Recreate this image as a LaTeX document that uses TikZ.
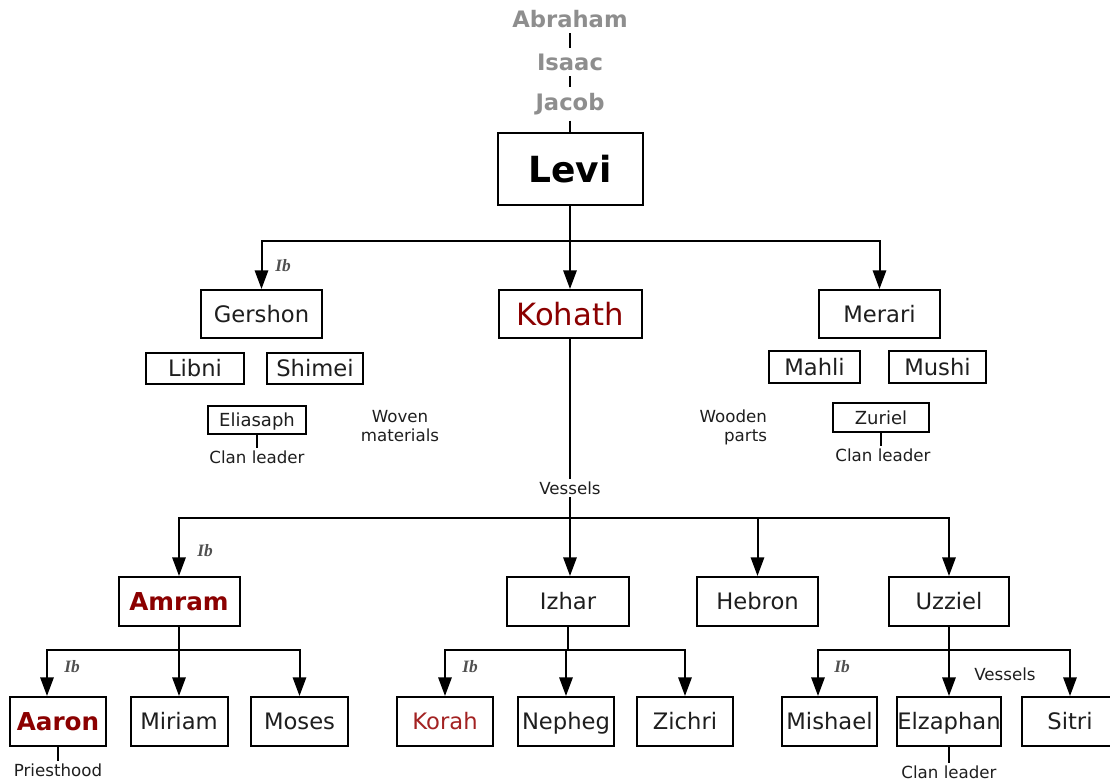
\documentclass[tikz,border=0pt]{standalone}
\usepackage{fontspec}
\setmainfont{DejaVu Sans}
\newfontfamily\ibfont{Liberation Serif}
\usetikzlibrary{arrows.meta}
\definecolor{ancgray}{HTML}{8E8E8E}
\definecolor{dkred}{HTML}{8B0000}
\definecolor{korahred}{HTML}{A32222}
\definecolor{txt}{HTML}{1E1E1E}
\definecolor{ibgray}{HTML}{505050}
\begin{document}
\begin{tikzpicture}[x=0.75pt,y=-0.75pt,
  line width=1.5pt,
  box/.style 2 args={draw=black, line width=1.5pt, fill=white, inner sep=0pt,
    minimum width=#1*0.75pt, minimum height=#2*0.75pt, text=txt,
    text height=12.4pt, text depth=0pt,
    font=\fontsize{17pt}{19pt}\selectfont},
  smallbox/.style 2 args={box={#1}{#2}, text height=9.9pt, font=\fontsize{13.5pt}{16pt}\selectfont},
  redbold/.style={text=dkred, text height=13.5pt, font=\fontsize{18.5pt}{20pt}\selectfont\bfseries},
  anc/.style={text=ancgray, font=\fontsize{17pt}{18pt}\selectfont\bfseries, inner sep=3.5pt},
  lbl/.style={text=txt, font=\fontsize{12.5pt}{14.25pt}\selectfont, inner sep=1.5pt},
  ib/.style={text=ibgray, font=\ibfont\itshape\bfseries\fontsize{13pt}{14pt}\selectfont, inner sep=0pt},
  arr/.style={-{Triangle[width=10pt,length=14pt]}}
]
\useasboundingbox (0,0) rectangle (1110,782);
\clip (0,0) rectangle (1110,782);

% ancestors
\node[anc] (abraham) at (570,19) {Abraham};
\node[anc] (isaac) at (570,62) {Isaac};
\node[anc] (jacob) at (570,104) {Jacob};
\node[box={145}{72}, text=black, text height=19.7pt, font=\fontsize{27pt}{30pt}\selectfont\bfseries] (levi) at (570,169) {Levi};
\draw (abraham) -- (isaac);
\draw (isaac) -- (jacob);
\draw (jacob) -- (levi);

% sons of Levi
\node[box={121}{48}] (gershon) at (261.5,314) {Gershon};
\node[box={143}{48}, text=dkred, text height=16.8pt, font=\fontsize{23pt}{26pt}\selectfont] (kohath) at (570,314) {Kohath};
\node[box={121}{48}] (merari) at (879.5,314) {Merari};
\coordinate (b1) at (570,241);
\draw[arr] (levi.south) -- (kohath.north);
\draw[arr] (b1) -| (gershon.north);
\draw[arr] (b1) -| (merari.north);
\node[ib] (ib1) at (283,266) {Ib};

% Gershon branch
\node[box={98}{31}] (libni) at (195,368.5) {Libni};
\node[box={96}{31}] (shimei) at (315,368.5) {Shimei};
\node[smallbox={98}{28}] (eliasaph) at (257,420) {Eliasaph};
\node[lbl] (cl1) at (257,457) {Clan leader};
\draw (eliasaph.south) -- (cl1.north);
\node[lbl, align=center] (woven) at (400,426) {Woven\\materials};

% Merari branch
\node[box={91}{32}] (mahli) at (814.5,367) {Mahli};
\node[box={97}{32}] (mushi) at (937.5,367) {Mushi};
\node[smallbox={96}{29}] (zuriel) at (881,417.5) {Zuriel};
\node[lbl] (cl2) at (883,455) {Clan leader};
\draw (zuriel.south) -- (zuriel.south |- cl2.north);
\node[lbl, align=right, anchor=east] (wooden) at (770,427) {Wooden\\parts};

% Kohath branch
\node[lbl] (ves1) at (570,488) {Vessels};
\draw (kohath.south) -- (ves1.north);
\node[box={121}{49}, redbold] (amram) at (179,601.5) {Amram};
\node[box={122}{49}] (izhar) at (568,601.5) {Izhar};
\node[box={121}{49}] (hebron) at (757.5,601.5) {Hebron};
\node[box={120}{49}] (uzziel) at (949,601.5) {Uzziel};
\coordinate (b2) at (570,518);
\draw[arr] (ves1.south) -- (ves1.south |- izhar.north);
\draw[arr] (b2) -| (amram.north);
\draw[arr] (b2) -| (hebron.north);
\draw[arr] (b2) -| (uzziel.north);
\node[ib] (ib2) at (205,551) {Ib};

\coordinate (lv4) at (0,650);

% Amram's children
\node[box={96}{49}, redbold] (aaron) at (58,721.5) {Aaron};
\node[box={97}{49}] (miriam) at (179,721.5) {Miriam};
\node[box={97}{49}] (moses) at (299.5,721.5) {Moses};
\coordinate (aa) at (47,650);
\draw[arr] (amram.south) |- (aa) -- (aa |- aaron.north);
\draw[arr] (amram.south) -- (miriam.north);
\draw[arr] (amram.south |- lv4) -| (moses.north);
\node[ib] (ib3) at (72,667) {Ib};
\node[lbl] (priest) at (58,770) {Priesthood};
\draw (aaron.south) -- (priest.north);

% Izhar's children
\node[box={96}{49}, text=korahred] (korah) at (445,721.5) {Korah};
\node[box={96}{49}] (nepheg) at (566,721.5) {Nepheg};
\node[box={96}{49}] (zichri) at (685,721.5) {Zichri};
\draw (izhar.south) -- (izhar.south |- lv4);
\draw[arr] (izhar.south |- lv4) -| (korah.north);
\draw[arr] (izhar.south |- lv4) -| (nepheg.north);
\draw[arr] (izhar.south |- lv4) -| (zichri.north);
\node[ib] (ib4) at (470,667) {Ib};

% Uzziel's children
\node[box={95}{49}] (mishael) at (829.5,721.5) {Mishael};
\node[box={104}{49}] (elzaphan) at (949,721.5) {Elzaphan};
\node[box={96}{49}] (sitri) at (1070,721.5) {Sitri};
\coordinate (ma) at (818,650);
\draw[arr] (uzziel.south) |- (ma) -- (ma |- mishael.north);
\draw[arr] (uzziel.south) -- (elzaphan.north);
\draw[arr] (uzziel.south |- lv4) -| (sitri.north);
\node[ib] (ib5) at (842,667) {Ib};
\node[lbl] (ves2) at (1005,674) {Vessels};
\node[lbl] (cl3) at (949,772) {Clan leader};
\draw (elzaphan.south) -- (cl3.north);
\end{tikzpicture}
\end{document}
